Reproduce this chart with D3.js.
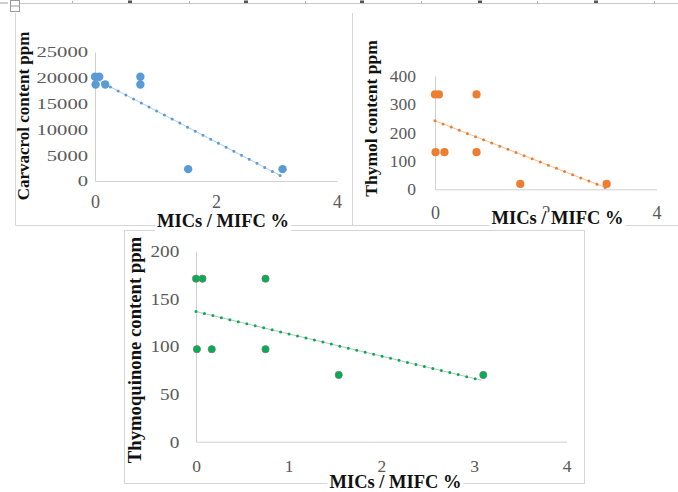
<!DOCTYPE html>
<html>
<head>
<meta charset="utf-8">
<script src="https://cdn.jsdelivr.net/npm/d3@7"></script>
<style>
  body { margin: 0; background: #fff; }
  svg { display: block; }
</style>
</head>
<body>
<div id="vis"></div>
<script>
const WIDTH = 678;
const HEIGHT = 492;

// MICs / MIFC % of each sample, same order in the three charts
const MIC = [0, 0.07, 0.75, 0.01, 0.17, 0.75, 1.54, 3.1];
const CARVACROL = [20200, 20200, 20200, 18700, 18700, 18700, 2300, 2300];
const THYMOL = [335, 335, 335, 131, 131, 131, 19, 19];
const THYMOQUINONE = [171, 171, 171, 97, 97, 97, 70, 70];

// linear trend lines as drawn: value at each end of TREND_X
const TREND_X = [0, 3.08];
const CARVACROL_TREND = [19800, 950];
const THYMOL_TREND = [242, 6];
const THYMOQUINONE_TREND = [136.5, 64.5];

const CARVACROL_TICKS = [0, 5000, 10000, 15000, 20000, 25000];
const THYMOL_TICKS = [0, 100, 200, 300, 400];
const THYMOQUINONE_TICKS = [0, 50, 100, 150, 200];
const X_TICKS_SHORT = [0, 2, 4];
const X_TICKS_LONG = [0, 1, 2, 3, 4];

const X_TITLE = "MICs / MIFC %";
const SERIF = "'Liberation Serif', 'Times New Roman', serif";
const FMT = d3.format("d");

const SVG = d3.select("#vis")
    .append("svg")
        .attr("width", WIDTH)
        .attr("height", HEIGHT);

// --- page furniture: ruler line on top and the chart frames ---
SVG.append("rect").attr("x", 0).attr("y", 2).attr("width", 8).attr("height", 2).attr("fill", "#cfcfcf");
SVG.append("rect").attr("x", 10.5).attr("y", 0.5).attr("width", 9).attr("height", 11)
    .attr("fill", "none").attr("stroke", "#9a9a9a");
SVG.append("line").attr("x1", 10.5).attr("x2", 19.5).attr("y1", 6).attr("y2", 6).attr("stroke", "#9a9a9a");
SVG.append("line").attr("x1", 20).attr("x2", WIDTH).attr("y1", 3.5).attr("y2", 3.5)
    .attr("stroke", "#c8c8c8");
[72, 189, 305, 421, 537, 654].forEach((x) => {
    SVG.append("rect").attr("x", x).attr("y", 1).attr("width", 1).attr("height", 2).attr("fill", "#b0b0b0");
});
[130, 246, 362, 480, 596].forEach((x) => {
    SVG.append("rect").attr("x", x - 2).attr("y", 0.5).attr("width", 4).attr("height", 2.5).attr("fill", "#555");
});

const FRAME_COLOR = "#d6d6d6";
SVG.append("line").attr("x1", 15.5).attr("x2", 15.5).attr("y1", 13).attr("y2", 225.5).attr("stroke", FRAME_COLOR);
SVG.append("line").attr("x1", 352.5).attr("x2", 352.5).attr("y1", 13).attr("y2", 225.5).attr("stroke", FRAME_COLOR);
SVG.append("line").attr("x1", 15.5).attr("x2", WIDTH).attr("y1", 225.5).attr("y2", 225.5).attr("stroke", FRAME_COLOR);
SVG.append("rect").attr("x", 124.5).attr("y", 230.5).attr("width", 460).attr("height", 253)
    .attr("fill", "#fff").attr("stroke", FRAME_COLOR);

function drawPanel(cfg) {
    const X_SCALE = d3.scaleLinear().domain([0, 4]).range([cfg.left, cfg.right]);
    const Y_SCALE = d3.scaleLinear().domain(d3.extent(cfg.yTicks)).range([cfg.bottom, cfg.top]);

    const g = SVG.append("g");

    // y axis
    const yAxis = g.append("g")
        .attr("transform", `translate(${cfg.left},0)`)
        .call(d3.axisLeft(Y_SCALE).tickValues(cfg.yTicks).tickFormat(FMT)
            .tickSize(0).tickSizeOuter(0).tickPadding(cfg.yPad / cfg.yStretch));
    yAxis.select(".domain").attr("stroke", "#d0d0d0");
    yAxis.selectAll("text")
        .attr("font-family", SERIF)
        .attr("font-size", cfg.yFont)
        .attr("fill", "#595959")
        .attr("transform", `scale(${cfg.yStretch},1)`);

    // x axis
    const xAxis = g.append("g")
        .attr("transform", `translate(0,${cfg.bottom})`)
        .call(d3.axisBottom(X_SCALE).tickValues(cfg.xTicks).tickFormat(FMT)
            .tickSize(0).tickSizeOuter(0).tickPadding(cfg.xPad));
    xAxis.select(".domain").attr("stroke", "#d0d0d0");
    xAxis.selectAll("text")
        .attr("font-family", SERIF)
        .attr("font-size", cfg.xFont)
        .attr("fill", "#595959");

    // trend line
    const trend = TREND_X.map((x, i) => [x, cfg.trend[i]]);
    const line = d3.line().x((d) => X_SCALE(d[0])).y((d) => Y_SCALE(d[1]));
    g.append("path")
        .attr("d", line(trend))
        .attr("fill", "none")
        .attr("stroke", cfg.linkColor)
        .attr("stroke-opacity", 0.5)
        .attr("stroke-width", 1);
    g.append("path")
        .attr("d", line(trend))
        .attr("fill", "none")
        .attr("stroke", cfg.color)
        .attr("stroke-width", 3)
        .attr("stroke-linecap", "round")
        .attr("stroke-dasharray", "0 8.7");

    // points
    g.selectAll(".pt")
        .data(MIC.map((x, i) => ({x : x, y : cfg.values[i]})))
        .enter()
        .append("circle")
            .attr("class", "pt")
            .attr("cx", (d) => X_SCALE(d.x))
            .attr("cy", (d) => Y_SCALE(d.y))
            .attr("r", cfg.r)
            .attr("fill", cfg.color)
            .attr("stroke", cfg.pointStroke)
            .attr("stroke-width", cfg.pointStroke === "none" ? 0 : 0.8);

    // y title
    g.append("text")
        .attr("transform", `translate(${cfg.yTitleX},${cfg.yTitleY}) rotate(-90)`)
        .attr("text-anchor", "middle")
        .attr("font-family", SERIF)
        .attr("font-weight", "bold")
        .attr("font-size", cfg.yTitleFont)
        .attr("fill", "#111")
        .text(cfg.yTitle);

    // x title on a white box
    const tg = g.append("g");
    const bg = tg.append("rect").attr("fill", "#fff");
    const t = tg.append("text")
        .attr("x", cfg.xTitleX)
        .attr("y", cfg.xTitleY)
        .attr("text-anchor", "middle")
        .attr("font-family", SERIF)
        .attr("font-weight", "bold")
        .attr("font-size", 18.5)
        .attr("fill", "#111")
        .text(X_TITLE);
    const bb = t.node().getBBox();
    bg.attr("x", bb.x - 2).attr("y", bb.y + 4).attr("width", bb.width + 4).attr("height", bb.height - 3);
}

drawPanel({
    values : CARVACROL, trend : CARVACROL_TREND, yTicks : CARVACROL_TICKS, xTicks : X_TICKS_SHORT,
    left : 95, right : 337, top : 52, bottom : 181,
    yPad : 7, yStretch : 1.33, yFont : 15.5, xPad : 14.5, xFont : 18,
    color : "#5b9bd5", linkColor : "#5b9bd5", pointStroke : "none", r : 4.2,
    yTitle : "Carvacrol content ppm", yTitleX : 29, yTitleY : 116, yTitleFont : 17,
    xTitleX : 223, xTitleY : 227
});

drawPanel({
    values : THYMOL, trend : THYMOL_TREND, yTicks : THYMOL_TICKS, xTicks : X_TICKS_SHORT,
    left : 435, right : 656.5, top : 76, bottom : 189.3,
    yPad : 19, yStretch : 1, yFont : 17.5, xPad : 16.7, xFont : 18,
    color : "#ed7d31", linkColor : "#ed7d31", pointStroke : "none", r : 4.1,
    yTitle : "Thymol content ppm", yTitleX : 376.5, yTitleY : 118.5, yTitleFont : 17.5,
    xTitleX : 557.5, xTitleY : 224.3
});

drawPanel({
    values : THYMOQUINONE, trend : THYMOQUINONE_TREND, yTicks : THYMOQUINONE_TICKS, xTicks : X_TICKS_LONG,
    left : 196, right : 566.7, top : 251, bottom : 441.7,
    yPad : 16.7, yStretch : 1.1, yFont : 17.5, xPad : 17.9, xFont : 17.5,
    color : "#00b050", linkColor : "#808080", pointStroke : "#7a7a7a", r : 3.6,
    yTitle : "Thymoquinone content ppm", yTitleX : 140.5, yTitleY : 350, yTitleFont : 18.7,
    xTitleX : 395.5, xTitleY : 487.5
});
</script>
</body>
</html>
